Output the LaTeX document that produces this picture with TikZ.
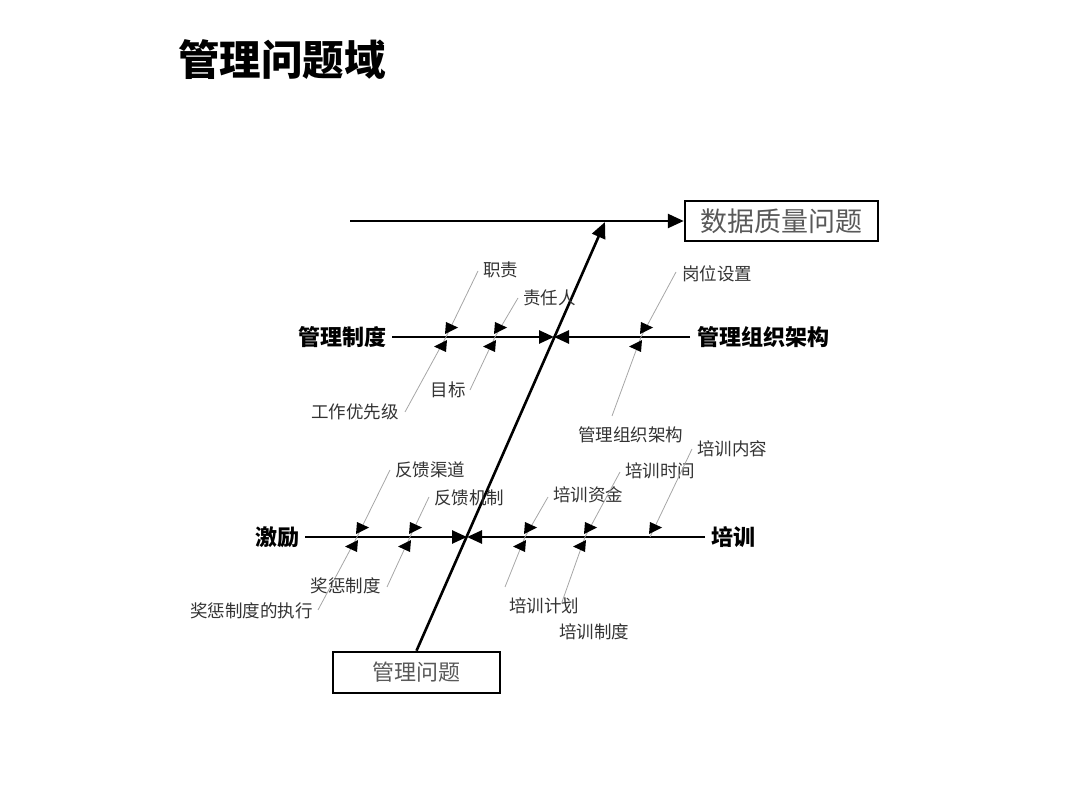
\documentclass[tikz,border=0pt]{standalone}
\usepackage{fontspec}
\setmainfont{Noto Sans CJK SC}
\usetikzlibrary{arrows.meta}
\begin{document}
\begin{tikzpicture}[x=1pt,y=-1pt,
  main/.style={line width=2.6pt},
  tipA/.style={-{Triangle[length=16pt,width=14pt]}},
  tipB/.style={-{Triangle[length=15pt,width=13pt]}},
  sub/.style={line width=0.8pt, draw=black!35},
  small/.style={font=\fontsize{17.5}{17.5}\selectfont, text=black!80, inner sep=0pt},
  branch/.style={font=\fontsize{22}{22}\selectfont\bfseries, inner sep=0pt},
  box/.style={draw, line width=2.5pt, text=black!65, inner sep=0pt},
  upflag/.pic={\fill (0,-15)--(12,-9.5)--(-1,-3)--cycle;},
  downflag/.pic={\fill (0,15)--(-12,9.5)--(1,3)--cycle;}]
\useasboundingbox (0,0) rectangle (1080,810);

\node[anchor=west, font=\fontsize{41.5}{41.5}\selectfont\bfseries, inner sep=0pt] (title) at (178,60) {管理问题域};

\node[box, minimum width=193pt, minimum height=40pt, font=\fontsize{27}{27}\selectfont] (dq) at (781.5,221) {数据质量问题};
\node[box, minimum width=167pt, minimum height=41pt, font=\fontsize{22}{22}\selectfont] (gl) at (416.5,672.5) {管理问题};

\coordinate (tl) at (350,221);
\draw[main,tipA] (tl) -- (dq.west);
\coordinate (sp) at (605,222);
\draw[main,tipA] (gl.north) -- (sp);

\coordinate (j1) at (554,337);
\coordinate (j2) at (467,537);

\node[branch, anchor=east] (zd) at (387,337) {管理制度};
\node[branch, anchor=west] (zz) at (697,337) {管理组织架构};
\node[branch, anchor=east] (jl) at (300,537) {激励};
\node[branch, anchor=west] (px) at (711,537) {培训};
\draw[main,tipB] ([xshift=5pt]zd.east) -- (j1);
\draw[main,tipB] ([xshift=-7pt]zz.west) -- (j1);
\draw[main,tipB] ([xshift=5pt]jl.east) -- (j2);
\draw[main,tipB] ([xshift=-6pt]px.west) -- (j2);

% 管理制度
\coordinate (c1) at (446,337); \coordinate (c1u) at (478,271); \coordinate (c1d) at (405,412);
\node[small,anchor=west] (l1u) at (483,270) {职责};
\node[small,anchor=east] (l1d) at (399,412) {工作优先级};
\draw[sub] (c1u) -- (c1) -- (c1d);
\pic at (c1) {upflag}; \pic at (c1) {downflag};

\coordinate (c2) at (495,337); \coordinate (c2u) at (518,298); \coordinate (c2d) at (470,390);
\node[small,anchor=west] (l2u) at (523,298) {责任人};
\node[small,anchor=east] (l2d) at (466,390) {目标};
\draw[sub] (c2u) -- (c2) -- (c2d);
\pic at (c2) {upflag}; \pic at (c2) {downflag};

% 管理组织架构
\coordinate (c3) at (641,337); \coordinate (c3u) at (676,272); \coordinate (c3d) at (612,416);
\node[small,anchor=west] (l3u) at (682,274) {岗位设置};
\node[small,anchor=west] (l3d) at (578,435) {管理组织架构};
\draw[sub] (c3u) -- (c3) -- (c3d);
\pic at (c3) {upflag}; \pic at (c3) {downflag};

% 激励
\coordinate (c4) at (357,537); \coordinate (c4u) at (390,470); \coordinate (c4d) at (318,610);
\node[small,anchor=west] (l4u) at (395,470) {反馈渠道};
\node[small,anchor=east] (l4d) at (313,611) {奖惩制度的执行};
\draw[sub] (c4u) -- (c4) -- (c4d);
\pic at (c4) {upflag}; \pic at (c4) {downflag};

\coordinate (c5) at (410,537); \coordinate (c5u) at (429,497); \coordinate (c5d) at (387,587);
\node[small,anchor=west] (l5u) at (434,498) {反馈机制};
\node[small,anchor=east] (l5d) at (381,586) {奖惩制度};
\draw[sub] (c5u) -- (c5) -- (c5d);
\pic at (c5) {upflag}; \pic at (c5) {downflag};

% 培训
\coordinate (c6) at (525,537); \coordinate (c6u) at (548,497); \coordinate (c6d) at (505,587);
\node[small,anchor=west] (l6u) at (553,495) {培训资金};
\node[small,anchor=west] (l6d) at (509,606) {培训计划};
\draw[sub] (c6u) -- (c6) -- (c6d);
\pic at (c6) {upflag}; \pic at (c6) {downflag};

\coordinate (c7) at (585,537); \coordinate (c7u) at (620,472); \coordinate (c7d) at (562,602);
\node[small,anchor=west] (l7u) at (625,471) {培训时间};
\node[small,anchor=west] (l7d) at (559,632) {培训制度};
\draw[sub] (c7u) -- (c7) -- (c7d);
\pic at (c7) {upflag}; \pic at (c7) {downflag};

\coordinate (c8) at (650,537); \coordinate (c8u) at (692,449);
\node[small,anchor=west] (l8u) at (697,449) {培训内容};
\draw[sub] (c8u) -- (c8);
\pic at (c8) {upflag};
\end{tikzpicture}
\end{document}
